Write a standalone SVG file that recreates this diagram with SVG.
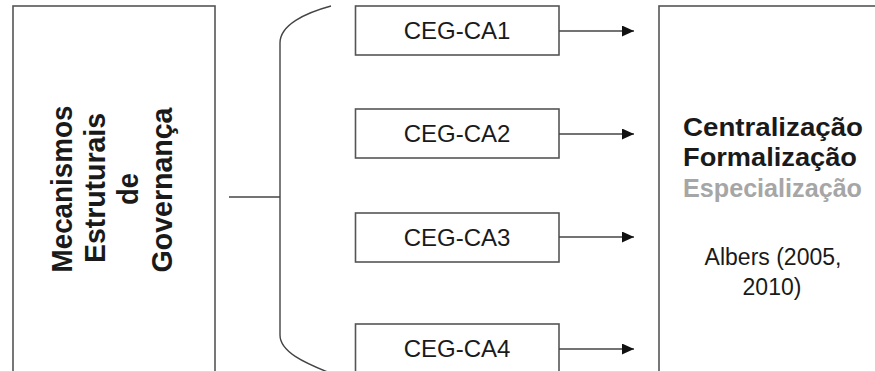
<svg xmlns="http://www.w3.org/2000/svg" width="875" height="372" viewBox="0 0 875 372">
<style>
.box{fill:#fff;stroke:#555;stroke-width:1.6}
.ln{fill:none;stroke:#444;stroke-width:1.4}
.lbl{font-family:"Liberation Sans",Arial,sans-serif;font-size:24px;fill:#1a1a1a;text-anchor:middle}
.big{font-family:"Liberation Sans",Arial,sans-serif;font-size:30px;font-weight:bold;fill:#1a1a1a;text-anchor:middle}
.rb{font-family:"Liberation Sans",Arial,sans-serif;font-size:25px;font-weight:bold;fill:#1a1a1a;text-anchor:middle}
.gray{fill:#a6a6a6}
.ref{font-family:"Liberation Sans",Arial,sans-serif;font-size:23px;fill:#1a1a1a;text-anchor:middle}
</style>
<defs>
<marker id="ah" markerWidth="12" markerHeight="11" refX="12" refY="5.5" orient="auto" markerUnits="userSpaceOnUse">
<path d="M0,0 L12,5.5 L0,11 Z" fill="#111"/>
</marker>
</defs>
<rect width="875" height="372" fill="#fff"/>
<g id="mecanismos">
<rect class="box" x="13" y="6" width="202" height="366"/>
<text class="big" transform="translate(72,189) rotate(-90)" textLength="167" lengthAdjust="spacingAndGlyphs">Mecanismos</text>
<text class="big" transform="translate(104.5,188) rotate(-90)" textLength="150" lengthAdjust="spacingAndGlyphs">Estruturais</text>
<text class="big" transform="translate(138,189) rotate(-90)" textLength="32" lengthAdjust="spacingAndGlyphs">de</text>
<text class="big" transform="translate(172,190) rotate(-90)" textLength="165" lengthAdjust="spacingAndGlyphs">Governança</text>
</g>
<g id="ca1">
<rect class="box" x="355.5" y="6" width="203.5" height="49"/>
<text class="lbl" x="457" y="39">CEG-CA1</text>
</g>
<g id="ca2">
<rect class="box" x="355.5" y="109" width="203.5" height="49"/>
<text class="lbl" x="457" y="142">CEG-CA2</text>
</g>
<g id="ca3">
<rect class="box" x="355.5" y="213" width="203.5" height="49"/>
<text class="lbl" x="457" y="246">CEG-CA3</text>
</g>
<g id="ca4">
<rect class="box" x="355.5" y="324" width="203.5" height="60"/>
<text class="lbl" x="457" y="357">CEG-CA4</text>
</g>
<g id="resultado">
<rect class="box" x="659" y="6" width="230" height="380"/>
<text class="rb" x="773" y="136" textLength="180" lengthAdjust="spacingAndGlyphs">Centralização</text>
<text class="rb" x="770" y="166" textLength="174" lengthAdjust="spacingAndGlyphs">Formalização</text>
<text class="rb gray" x="772.5" y="197" textLength="179" lengthAdjust="spacingAndGlyphs">Especialização</text>
<text class="ref" x="773" y="265">Albers (2005,</text>
<text class="ref" x="772" y="295">2010)</text>
</g>
<g id="connectors">
<line class="ln" x1="229" y1="197" x2="280" y2="197"/>
<path class="ln" d="M331,6 C305,13 280,25 280,43 L280,335 C280,352 305,363 330,373"/>
<line class="ln" x1="559" y1="31" x2="634" y2="31" marker-end="url(#ah)"/>
<line class="ln" x1="559" y1="134" x2="634" y2="134" marker-end="url(#ah)"/>
<line class="ln" x1="559" y1="237" x2="634" y2="237" marker-end="url(#ah)"/>
<line class="ln" x1="559" y1="349" x2="634" y2="349" marker-end="url(#ah)"/>
</g>
<line x1="0" y1="371.5" x2="875" y2="371.5" stroke="#ddd" stroke-width="1"/>
</svg>
